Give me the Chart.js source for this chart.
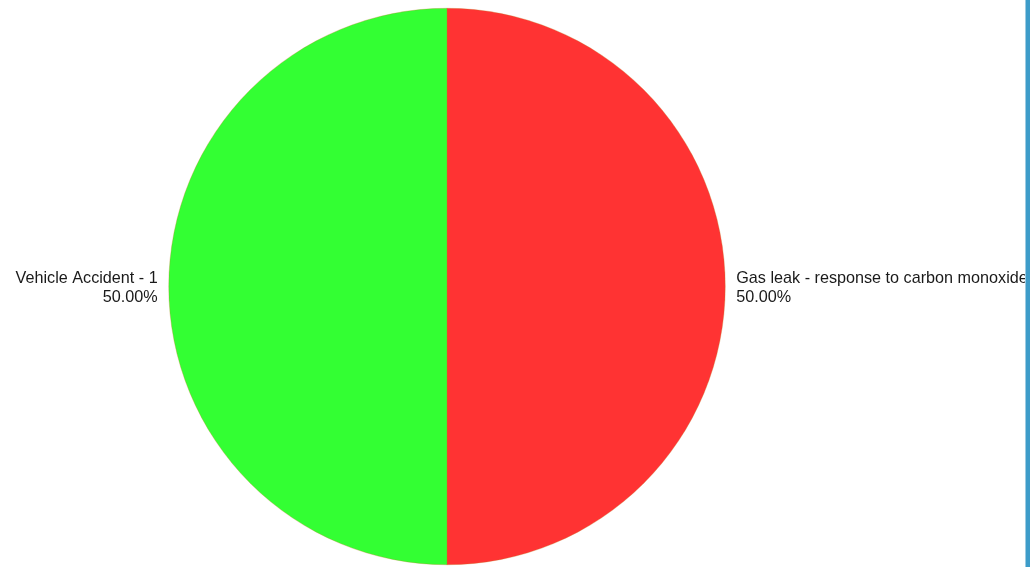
<!DOCTYPE html>
<html>
<head>
<meta charset="utf-8">
<script src="https://cdn.jsdelivr.net/npm/chart.js@4"></script>
<style>
    html, body { margin: 0; padding: 0; background: #fff; overflow: hidden; }
    #wrap { position: relative; width: 1033px; height: 567px; }
    #chartContainer { position: absolute; left: 0; top: 0; width: 1025px; height: 567px; }
    #edge { position: absolute; left: 1025px; top: 0; width: 4px; height: 567px; background: #3d9cc9; border-left: 1px solid #9ccbe2; }
</style>
</head>
<body>
<div id="wrap">
    <div id="chartContainer"><canvas id="myChart"></canvas></div>
    <div id="edge"></div>
</div>
<script>
const categories = ["Gas leak - response to carbon monoxide", "Vehicle Accident - 1"];
const counts = [1, 1];
const colors = ["#ff3333", "#33ff33"];

// draws "name / percent" next to each slice, like the old report charts
const sliceLabels = {
    id: "sliceLabels",
    afterDraw: (chart) => {
        const ctx = chart.ctx;
        const total = counts.reduce((a, b) => a + b, 0);
        const meta = chart.getDatasetMeta(0);
        ctx.save();
        ctx.font = "16.2px 'Liberation Sans', Arial, sans-serif";
        ctx.fillStyle = "#1a1a1a";
        ctx.textBaseline = "middle";
        meta.data.forEach((arc, i) => {
            const mid = (arc.startAngle + arc.endAngle) / 2;
            const r = arc.outerRadius + 11;
            const x = arc.x + Math.cos(mid) * r;
            const y = arc.y + Math.sin(mid) * r;
            const left = Math.cos(mid) < 0;
            ctx.textAlign = left ? "right" : "left";
            const pct = ((counts[i] / total) * 100).toFixed(2) + "%";
            ctx.fillText(categories[i], x, y - 8);
            ctx.fillText(pct, x, y + 11);
        });
        ctx.restore();
    },
};

const ctx = document.getElementById("myChart");
const myChart = new Chart(ctx, {
    type: "pie",
    data: {
        labels: categories,
        datasets: [
            {
                data: counts,
                backgroundColor: colors,
                borderColor: "rgba(190,120,30,0.6)",
                borderWidth: 0.5,
            },
        ],
    },
    options: {
        responsive: true,
        maintainAspectRatio: false,
        animation: false,
        layout: {
            padding: { left: 168, right: 299, top: 8, bottom: 2 },
        },
        plugins: {
            legend: { display: false },
            tooltip: { enabled: false },
        },
    },
    plugins: [sliceLabels],
});
</script>
</body>
</html>
